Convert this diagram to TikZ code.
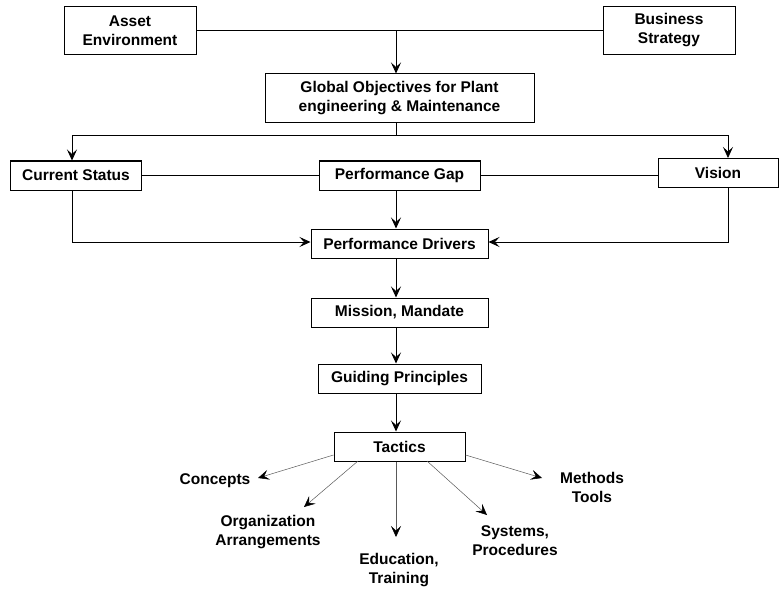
\documentclass[tikz,border=0pt]{standalone}
\usepackage{fontspec}
\setmainfont{Liberation Sans}
\usetikzlibrary{arrows.meta}
\begin{document}
\begin{tikzpicture}[x=1pt,y=-1pt,
  box/.style={draw=black,line width=1pt,fill=white,inner sep=0pt,align=center,
    font=\fontsize{15.5}{19}\selectfont\bfseries},
  lbl/.style={inner sep=0pt,align=center,font=\fontsize{15.5}{19}\selectfont\bfseries},
  conn/.style={line width=0.8pt,draw=black},
  arr/.style={conn,-{Stealth[length=11pt,width=10pt,inset=4.5pt]}},
  tarr/.style={line width=0.5pt,draw=black!65,-{Stealth[length=11pt,width=10pt,inset=4.5pt,color=black]}}]
\useasboundingbox (0,0) rectangle (779,591);
% boxes
\node[box,minimum width=132pt,minimum height=48pt] (asset) at (130,30.5) {Asset\\Environment};
\node[box,minimum width=132pt,minimum height=48pt] (business) at (669,30.5) {Business\\Strategy};
\node[box,minimum width=269pt,minimum height=49pt] (global) at (399.5,98.5) {Global Objectives for Plant\\engineering \& Maintenance};
\node[box,minimum width=131pt,minimum height=29pt] (current) at (76,175.5) {Current Status};
\node[box,minimum width=161pt,minimum height=29pt] (gap) at (399.5,175.5) {Performance Gap};
\node[box,minimum width=120pt,minimum height=29pt] (vision) at (718,173) {Vision};
\node[box,minimum width=177pt,minimum height=29pt] (drivers) at (399.5,243.5) {Performance Drivers};
\node[box,minimum width=177pt,minimum height=29pt] (mission) at (399.5,312.5) {Mission, Mandate};
\node[box,minimum width=163pt,minimum height=29pt] (guiding) at (399.5,378.5) {Guiding Principles};
\node[box,minimum width=131pt,minimum height=29pt] (tactics) at (399.5,446.5) {Tactics};
% tactic outcomes
\node[lbl] (concepts) at (215,481) {Concepts};
\node[lbl] (org) at (268,532) {Organization\\Arrangements};
\node[lbl] (edu) at (399,570) {Education,\\Training};
\node[lbl] (sys) at (515,541) {Systems,\\Procedures};
\node[lbl] (meth) at (592,487) {Methods\\Tools};
% helper coordinates
\coordinate (spine) at (396,0);
\coordinate (split) at (396,135);
\coordinate (leftx) at (72,0);
\coordinate (rightx) at (728,0);
\coordinate (merge) at (0,242);
\coordinate (cE) at (258,478);
\coordinate (oE) at (304,507);
\coordinate (eE) at (396,537);
\coordinate (sE) at (487,515);
\coordinate (mE) at (542,478);
% connectors
\draw[conn] (asset.east) -- (business.west);
\draw[arr] (spine |- asset.east) -- (spine |- global.north);
\draw[conn] (spine |- global.south) -- (split);
\draw[arr] (split) -| (leftx |- current.north);
\draw[arr] (split) -| (rightx |- vision.north);
\draw[conn] (current.east) -- (gap.west);
\draw[conn] (gap.east) -- (gap.east -| vision.west);
\draw[arr] (leftx |- current.south) |- (merge -| drivers.west);
\draw[arr] (rightx |- vision.south) |- (merge -| drivers.east);
\draw[arr] (spine |- gap.south) -- (spine |- drivers.north);
\draw[arr] (spine |- drivers.south) -- (spine |- mission.north);
\draw[arr] (spine |- mission.south) -- (spine |- guiding.north);
\draw[arr] (spine |- guiding.south) -- (spine |- tactics.north);
\draw[tarr] ([yshift=-8.5pt]tactics.west) -- (cE);
\draw[tarr] (358,461) -- (oE);
\draw[tarr] (spine |- tactics.south) -- (eE);
\draw[tarr] (427,461) -- (sE);
\draw[tarr] ([yshift=-8.5pt]tactics.east) -- (mE);
\end{tikzpicture}
\end{document}
